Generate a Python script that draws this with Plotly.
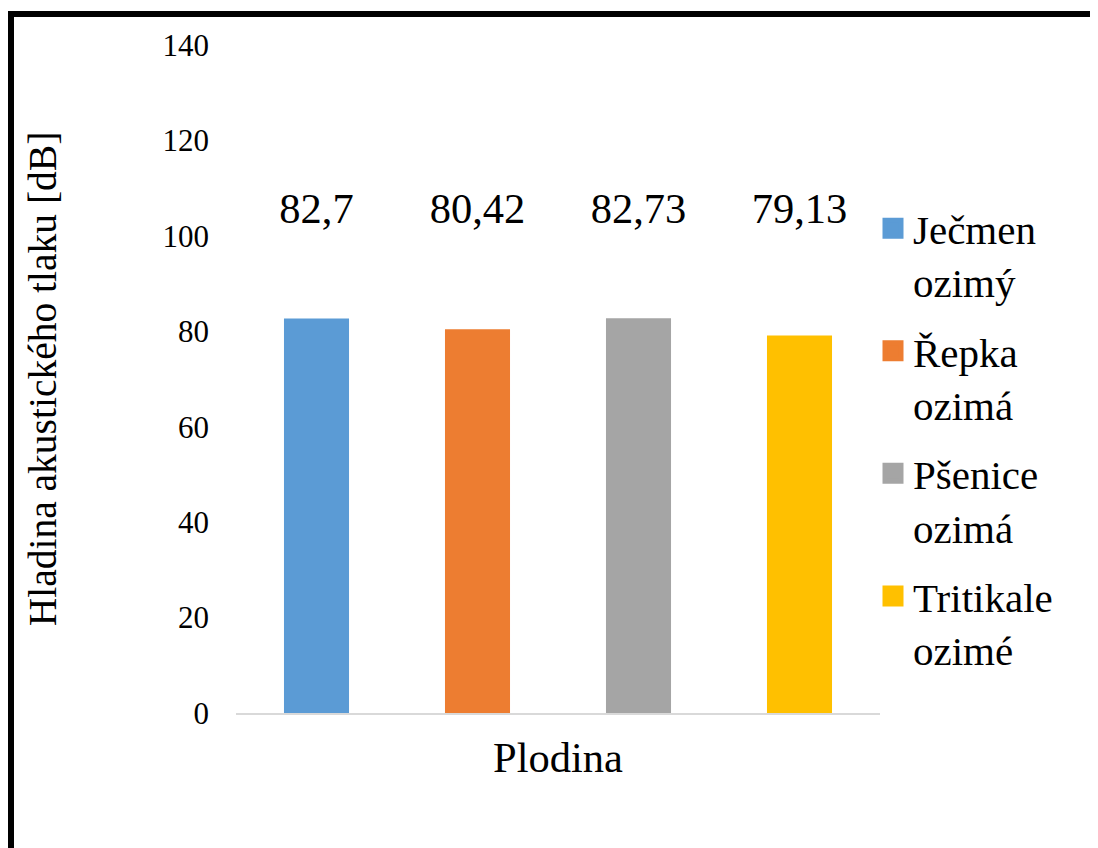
import plotly.graph_objects as go

# ---- data ----
crops = ["Ječmen ozimý", "Řepka ozimá", "Pšenice ozimá", "Tritikale ozimé"]
legend_names = ["Ječmen<br>ozimý", "Řepka<br>ozimá", "Pšenice<br>ozimá", "Tritikale<br>ozimé"]
values = [82.7, 80.42, 82.73, 79.13]
value_labels = ["82,7", "80,42", "82,73", "79,13"]
y_ticks = [0, 20, 40, 60, 80, 100, 120, 140]

# ---- style ----
colors = ["#5B9BD5", "#ED7D31", "#A5A5A5", "#FFC000"]
FONT = "Liberation Serif"
OFF = 8  # page body margin
W, H = 1098 - OFF, 848 - OFF
ML, MR, MT, MB = 236 - OFF, 218, 45 - OFF, 135
LABEL_LEVEL = 105.0  # height (in axis units) where value labels sit

def px_x(px):
    return (px - OFF - ML) / (W - ML - MR)

def px_y(py):
    return (H - MB - (py - OFF)) / (H - MT - MB)

fig = go.Figure()
for name, v, c in zip(crops, values, colors):
    fig.add_trace(go.Bar(x=[name], y=[v], marker=dict(color=c, line=dict(width=0)),
                         showlegend=False, hoverinfo="y"))

# value labels
fig.add_trace(go.Scatter(x=crops, y=[LABEL_LEVEL] * len(crops), mode="text",
                         text=value_labels, textposition="middle center",
                         textfont=dict(family=FONT, size=42.5, color="black"),
                         showlegend=False, hoverinfo="skip"))

# legend proxies (larger square swatches)
for lname, c in zip(legend_names, colors):
    fig.add_trace(go.Scatter(x=[None], y=[None], mode="markers", name=lname,
                             legendgroup=lname,
                             marker=dict(symbol="square", size=16, color=c,
                                         line=dict(width=5, color=c))))

border = dict(color="black", width=6)
fig.update_layout(
    width=W, height=H,
    margin=dict(l=ML, r=MR, t=MT, b=MB),
    paper_bgcolor="white", plot_bgcolor="white",
    barmode="overlay", bargap=0.596,
    font=dict(family=FONT, color="black"),
    legend=dict(x=px_x(873), xanchor="left", y=px_y(195), yanchor="top",
                font=dict(family=FONT, size=41, color="black"), valign="top",
                itemsizing="trace", bgcolor="rgba(0,0,0,0)", tracegroupgap=13),
    shapes=[
        dict(type="line", xref="paper", yref="paper",
             x0=px_x(8), y0=px_y(14), x1=px_x(1400), y1=px_y(14), line=border),
        dict(type="line", xref="paper", yref="paper",
             x0=px_x(11), y0=px_y(11), x1=px_x(11), y1=px_y(1200), line=border),
    ],
)
fig.update_xaxes(showticklabels=False, ticks="", showgrid=False, zeroline=False,
                 showline=True, linecolor="#D9D9D9", linewidth=2,
                 title=dict(text="Plodina", font=dict(family=FONT, size=42.5), standoff=28))
fig.update_yaxes(range=[0, 140], tickvals=y_ticks, showgrid=False, zeroline=False,
                 showline=False, ticks="", ticklabelstandoff=26,
                 tickfont=dict(family=FONT, size=31, color="black"),
                 title=dict(text="Hladina akustického tlaku [dB]",
                            font=dict(family=FONT, size=39.5), standoff=93))

fig.write_html("out.html")
